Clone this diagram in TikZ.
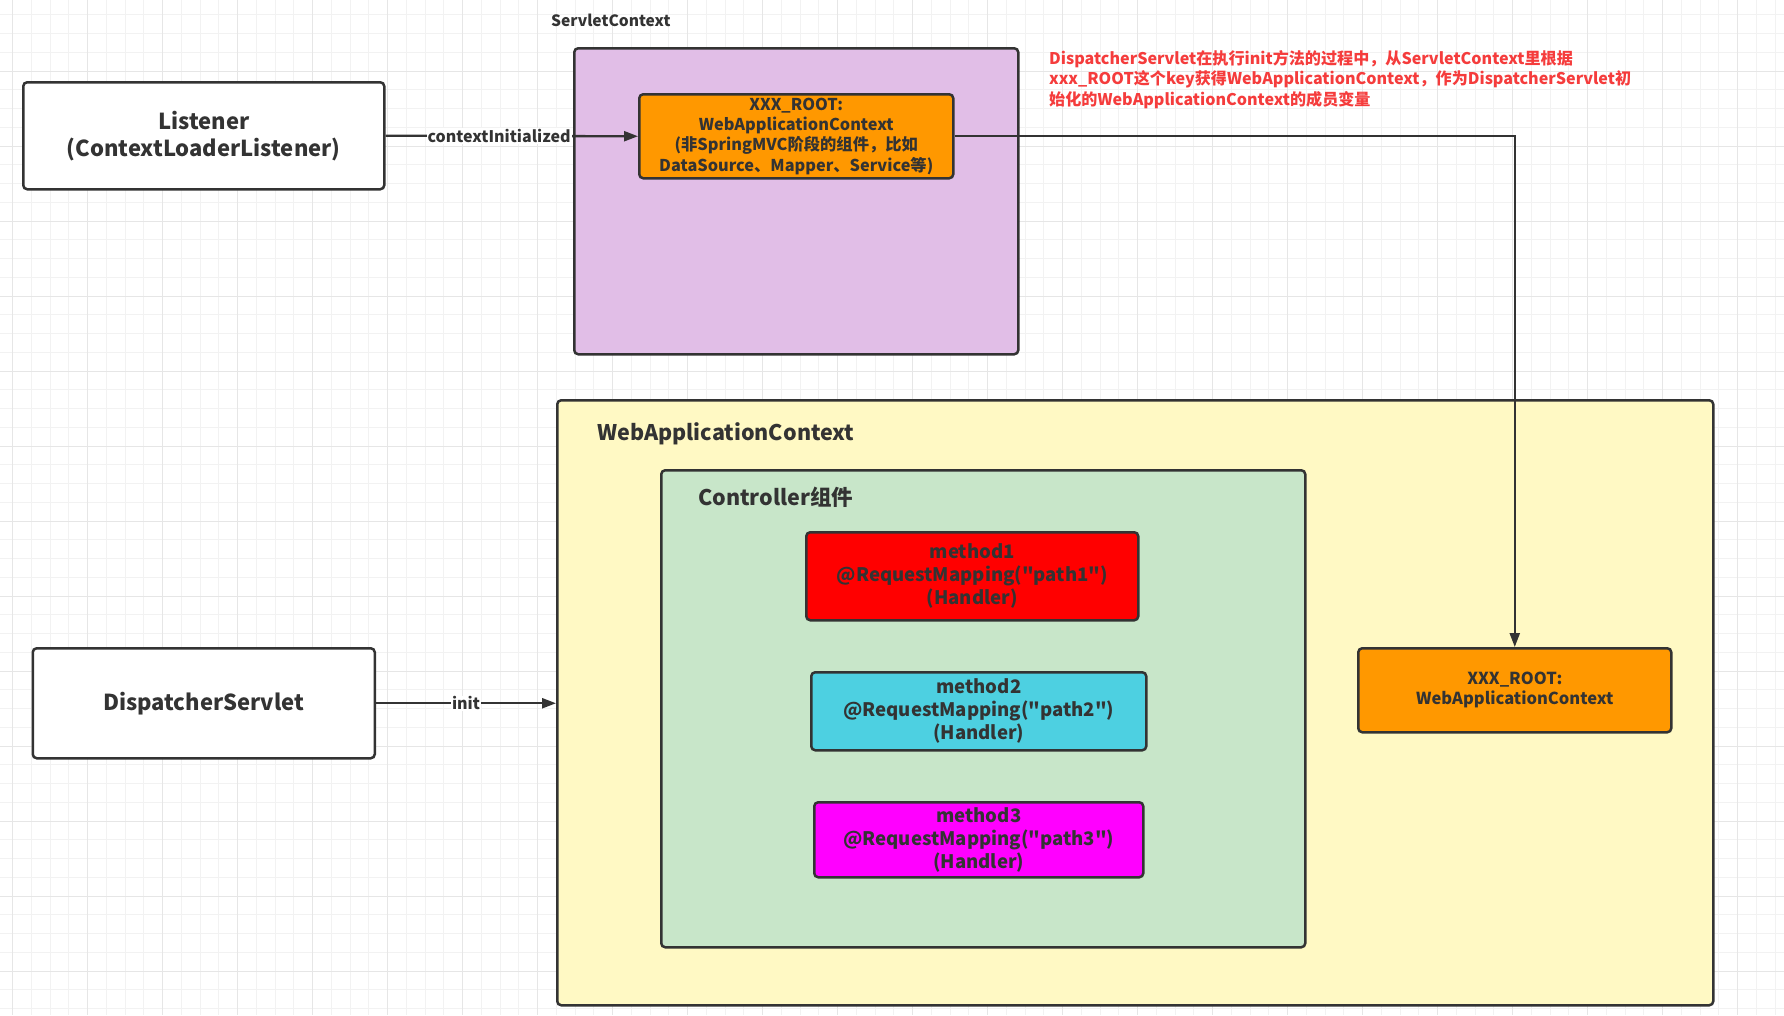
\documentclass[tikz,border=0pt]{standalone}
\usepackage{fontspec}
\setmainfont{Noto Sans CJK SC}[Ligatures=TeXOff]
\usetikzlibrary{arrows.meta}
\definecolor{ink}{HTML}{333333}
\definecolor{gminor}{HTML}{F2F2F2}
\definecolor{gmajor}{HTML}{E6E6E6}
\definecolor{purp}{HTML}{E1BEE7}
\definecolor{orng}{HTML}{FF9800}
\definecolor{ylw}{HTML}{FFF9C4}
\definecolor{grn}{HTML}{C8E6C9}
\definecolor{mred}{HTML}{FF0000}
\definecolor{mcyan}{HTML}{4DD0E1}
\definecolor{mmag}{HTML}{FF00FF}
\definecolor{note}{HTML}{F53C3C}
\newcommand{\fs}[2]{\fontsize{#1}{#2}\selectfont\bfseries}
\tikzset{
  boxstyle/.style={draw=ink, line width=2.5pt, rounded corners=4pt, anchor=north west,
    align=center, inner sep=0pt, text=ink},
  conn/.style={draw=ink, line width=2.3pt, -{Triangle[length=14pt,width=10pt]}},
  lbl/.style={fill=white, inner sep=1pt, text=ink, font=\fs{16}{19}},
}
\begin{document}
\begin{tikzpicture}[x=1pt,y=-1pt]
\useasboundingbox (0,0) rectangle (1784,1015);
\fill[white] (0,0) rectangle (1784,1015);
% grid
\foreach \i in {0,...,96} \draw[gminor, line width=1pt] ({-6.05+\i*18.75},0) -- ++(0,1015);
\foreach \i in {0,...,55} \draw[gminor, line width=1pt] (0,{-4+\i*18.75}) -- ++(1784,0);
\foreach \i in {0,...,23} \draw[gmajor, line width=1pt] ({12.7+\i*75},0) -- ++(0,1015);
\foreach \i in {1,...,13} \draw[gmajor, line width=1pt] (0,{-4+\i*75}) -- ++(1784,0);

% nodes
\node[boxstyle, fill=white, minimum width=361pt, minimum height=107pt, font=\fs{22}{27}]
  (lis) at (22,81) {Listener\\(ContextLoaderListener)};
\node[anchor=west, inner sep=0pt, text=ink, font=\fs{15.6}{18}] (sclbl) at (551,20) {ServletContext};
\node[boxstyle, fill=purp, minimum width=444pt, minimum height=306pt] (sc) at (573,47) {};
\node[boxstyle, fill=orng, minimum width=314pt, minimum height=84pt, font=\fs{16.3}{20.3}]
  (root1) at (638,93) {XXX\_ROOT:\\WebApplicationContext\\(非SpringMVC阶段的组件，比如\\DataSource、Mapper、Service等)};
\node[anchor=north west, align=left, inner sep=0pt, text=note, font=\fs{16.1}{20.5}] (notetxt) at (1049,50)
  {DispatcherServlet在执行init方法的过程中，从ServletContext里根据\\xxx\_ROOT这个key获得WebApplicationContext，作为DispatcherServlet初\\始化的WebApplicationContext的成员变量};

\node[boxstyle, fill=ylw, minimum width=1156pt, minimum height=605pt] (web) at (556,399) {};
\node[anchor=base west, inner sep=0pt, text=ink, font=\fs{21.5}{26}] (weblbl) at (597,440.5) {WebApplicationContext};
\node[boxstyle, fill=grn, minimum width=644pt, minimum height=477pt] (ctl) at (660,469) {};
\node[anchor=west, inner sep=0pt, text=ink, font=\fs{21.5}{26}] (ctllbl) at (698,497) {Controller组件};

\node[boxstyle, fill=mred, minimum width=332pt, minimum height=88pt, font=\fs{18.6}{22.8}]
  (m1) at (805,531) {method1\\@RequestMapping("path1")\\(Handler)};
\node[boxstyle, fill=mcyan, minimum width=335pt, minimum height=78pt, font=\fs{18.6}{22.8}]
  (m2) at (810,671) {method2\\@RequestMapping("path2")\\(Handler)};
\node[boxstyle, fill=mmag, minimum width=329pt, minimum height=75pt, font=\fs{18.6}{22.8}]
  (m3) at (813,801) {method3\\@RequestMapping("path3")\\(Handler)};

\node[boxstyle, fill=orng, minimum width=313pt, minimum height=84pt, font=\fs{16.5}{20}]
  (root2) at (1357,647) {XXX\_ROOT:\\WebApplicationContext};

\node[boxstyle, fill=white, minimum width=342pt, minimum height=110pt, font=\fs{22}{27}]
  (ds) at (31.5,647) {DispatcherServlet};

% connectors
\draw[conn] (lis.east) -- node[lbl, pos=0.45] {contextInitialized} (root1.west);
\draw[conn] (root1.east) -| (root2.north);
\draw[conn] (ds.east) -- node[lbl, pos=0.5] {init} (ds.east -| web.west);
\end{tikzpicture}
\end{document}
